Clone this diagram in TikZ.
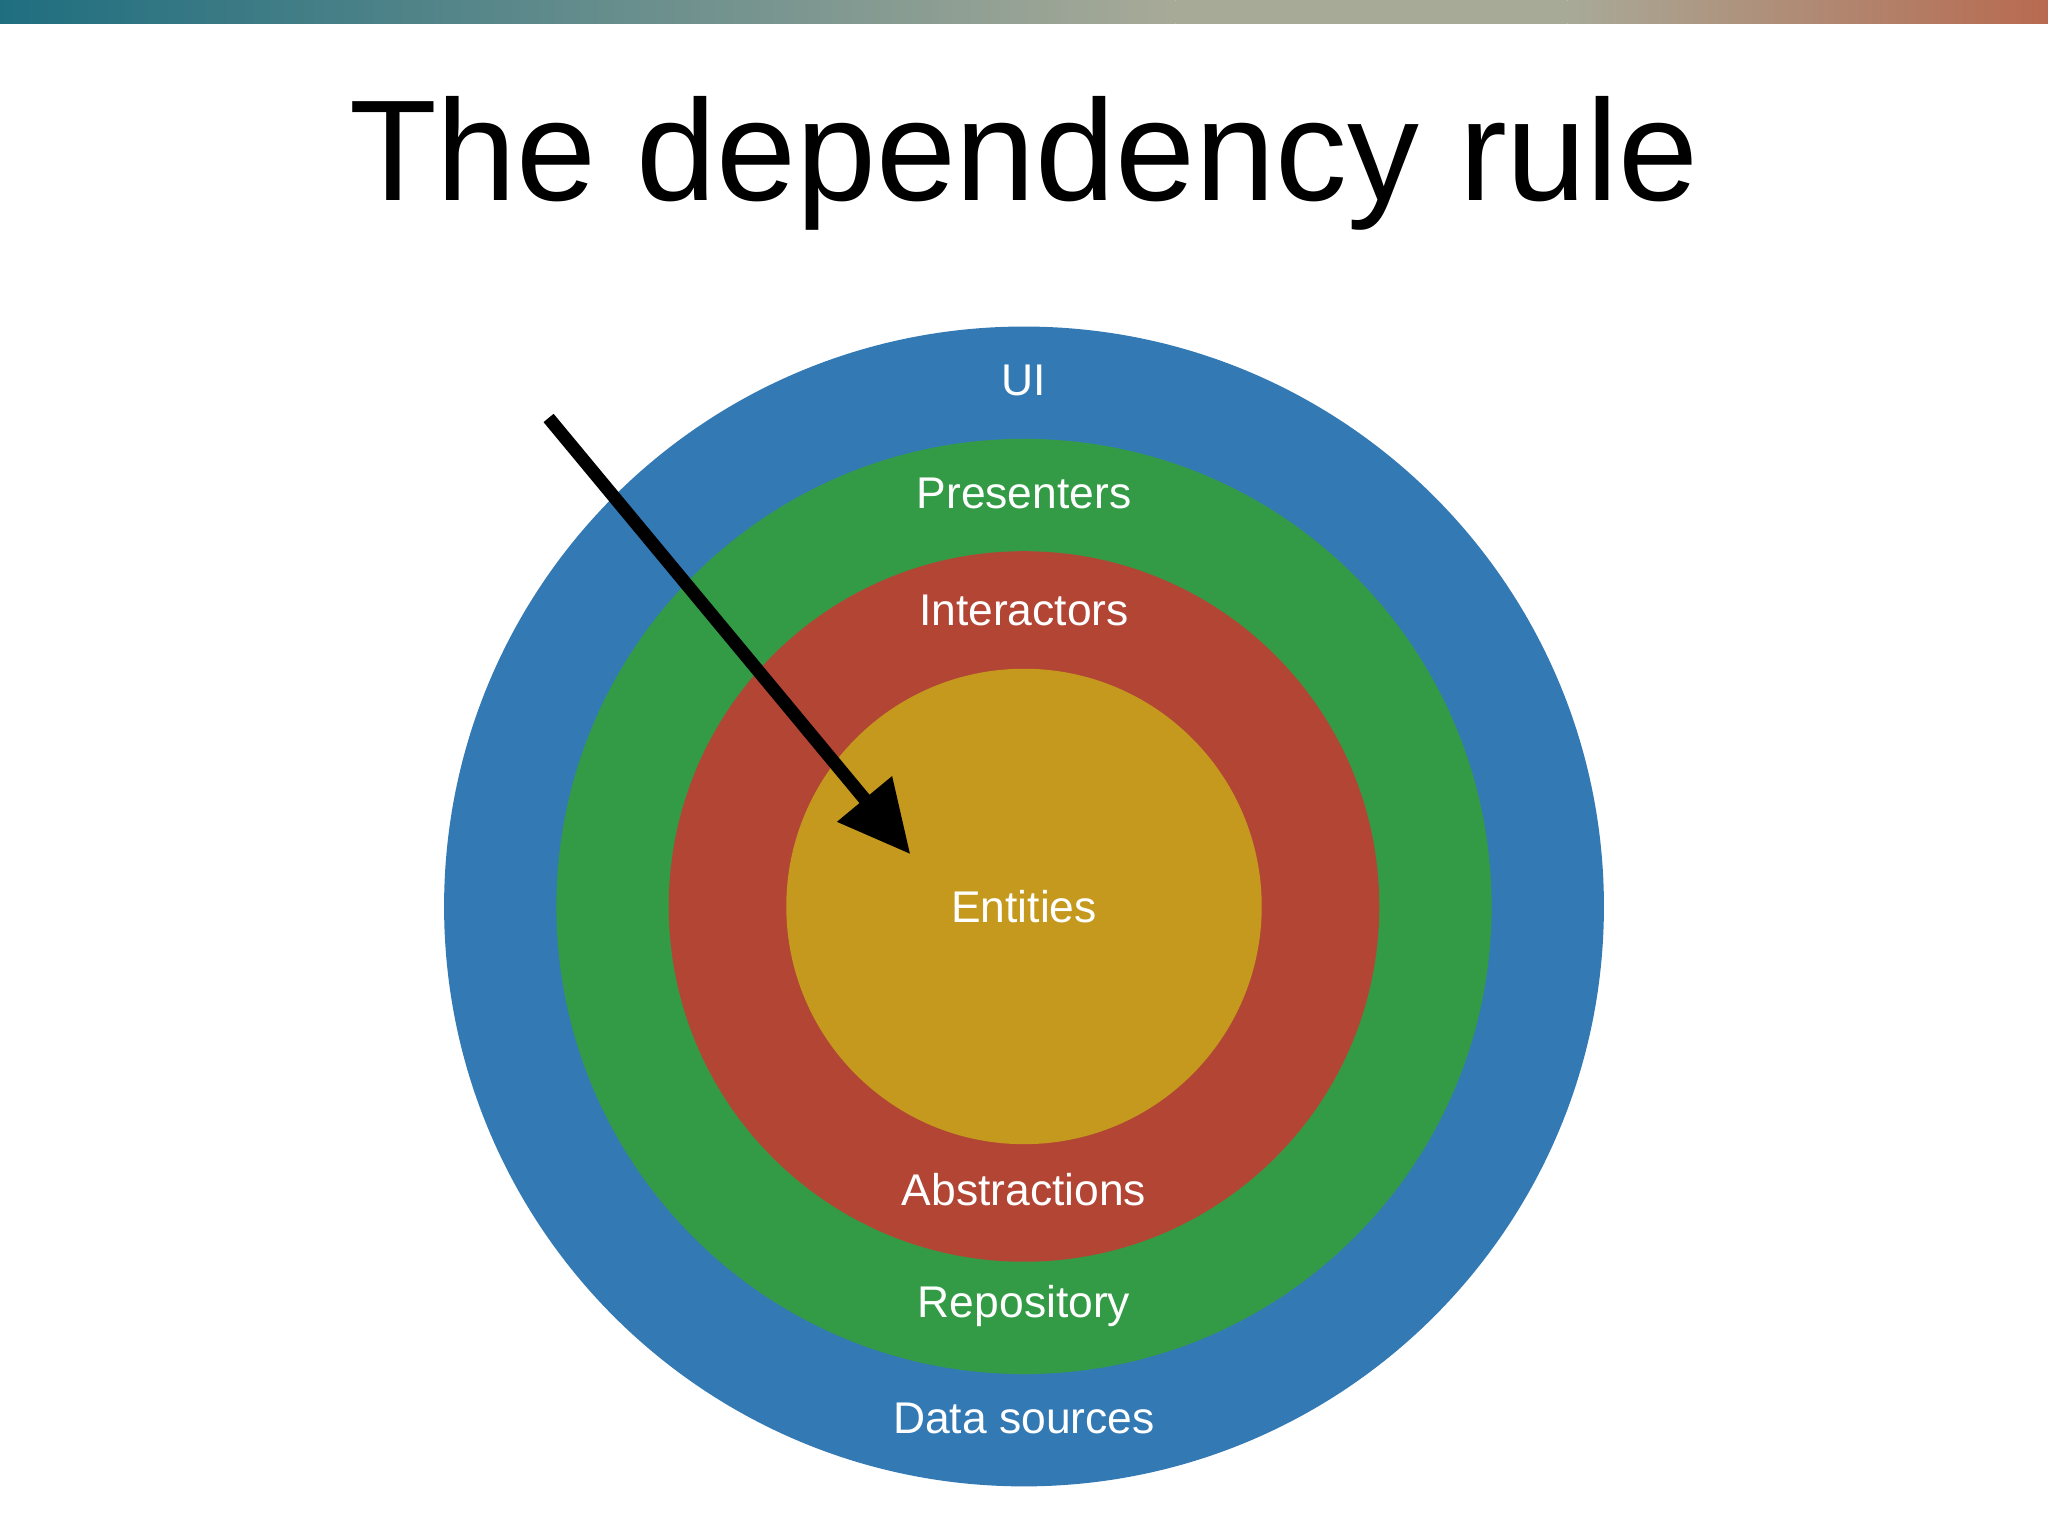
\documentclass[tikz,border=0pt]{standalone}
\usepackage{fontspec}
\setmainfont{Liberation Sans}
\usetikzlibrary{arrows.meta}
\definecolor{cblue}{HTML}{3379B4}
\definecolor{cgreen}{HTML}{339B45}
\definecolor{cred}{HTML}{B34535}
\definecolor{cyel}{HTML}{C4991D}
\definecolor{g1}{HTML}{1F6E80}
\definecolor{g2}{HTML}{A8AA98}
\definecolor{g3}{HTML}{B86A50}
\begin{document}
\begin{tikzpicture}[x=1pt,y=-1pt,
  lab/.style={text=white,font=\fontsize{34}{36}\selectfont},
  ring/.style={circle,inner sep=0pt,draw=none}]
\useasboundingbox (0,0) rectangle (1568,1176);
\fill[white] (0,0) rectangle (1568,1176);
\shade[left color=g1,right color=g2] (0,0) rectangle (900,18);
\shade[left color=g2,right color=g2] (900,0) rectangle (1200,18);
\shade[left color=g2,right color=g3] (1200,0) rectangle (1568,18);
\node[font=\fontsize{110}{120}\selectfont] (title) at (784,125) {The dependency rule};
\node[ring,fill=cblue,minimum size=888pt] (ui) at (784,694) {};
\node[ring,fill=cgreen,minimum size=716pt] (pr) at (784,694) {};
\node[ring,fill=cred,minimum size=544pt] (in) at (784,694) {};
\node[ring,fill=cyel,minimum size=364pt] (en) at (784,694) {};
\node[lab] (l1) at (784,291) {UI};
\node[lab] (l2) at (784,378) {Presenters};
\node[lab] (l3) at (784,467) {Interactors};
\node[lab] (l4) at (784,694) {Entities};
\node[lab] (l5) at (784,911) {Abstractions};
\node[lab] (l6) at (784,1000) {Repository};
\node[lab] (l7) at (784,1086) {Data sources};
\coordinate (a0) at (420,320);
\coordinate (a1) at (697,654);
\draw[line width=10pt,-{Triangle[length=55pt,width=52pt]}] (a0) -- (a1);
\end{tikzpicture}
\end{document}
